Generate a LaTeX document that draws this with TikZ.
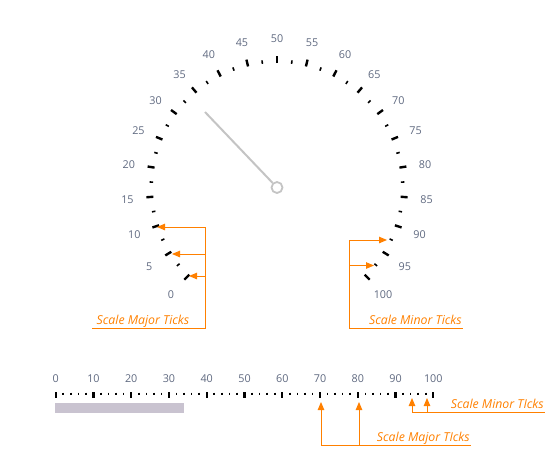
\documentclass[tikz,border=0pt]{standalone}
\usepackage{fontspec}
\setmainfont{Open Sans}
\usetikzlibrary{arrows.meta}
\definecolor{lblc}{RGB}{95,105,128}
\definecolor{callc}{RGB}{255,128,0}
\definecolor{needlec}{RGB}{196,196,196}
\definecolor{barc}{RGB}{201,195,208}
\tikzset{
  numlbl/.style={text=lblc, font=\fontsize{10.8}{12}\selectfont, inner sep=0pt},
  majtick/.style={line width=2.4pt, black},
  mintick/.style={line width=1.6pt, black},
  linmaj/.style={line width=2.2pt, black},
  linmin/.style={line width=1.6pt, black},
  callline/.style={callc, line width=1pt},
  callarrow/.style={callc, line width=1pt, -{Triangle[length=8pt,width=6.5pt]}},
  calltext/.style={text=callc, font=\fontsize{12.3}{14}\selectfont\itshape, inner sep=0pt},
}
\begin{document}
\begin{tikzpicture}[x=1pt,y=-1pt]
\useasboundingbox (0,0) rectangle (558,456);
% ---------- gauge ----------
\foreach \v in {0,5,...,100}{
  \pgfmathsetmacro\a{(\v-50)*2.7}
  \draw[majtick] ({277+124*sin(\a)},{187-124*cos(\a)}) -- ({277+131*sin(\a)},{187-131*cos(\a)});
  \node[numlbl] (g\v) at ({277+150*sin(\a)},{188.3-150*cos(\a)}) {\v};
}
\foreach \v in {2.5,7.5,...,97.5}{
  \pgfmathsetmacro\a{(\v-50)*2.7}
  \draw[mintick] ({277+124*sin(\a)},{187-124*cos(\a)}) -- ({277+127.5*sin(\a)},{187-127.5*cos(\a)});
}
\node[circle, draw=needlec, line width=1.8pt, minimum size=11pt, inner sep=0pt] (pivot) at (277,187.5) {};
\coordinate (ntip) at (205,112);
\draw[needlec, line width=2pt] (ntip) -- (pivot);
% gauge callouts left
\coordinate (la) at (205,227);
\coordinate (lb) at (205,254);
\coordinate (lc) at (205,276);
\coordinate (ld) at (205,328);
\coordinate (le) at (92,328);
\coordinate (lta) at (157,227);
\coordinate (ltb) at (172,254);
\coordinate (ltc) at (189,276);
\draw[callline] (la) -- (ld) -- (le);
\draw[callarrow] (la) -- (lta);
\draw[callarrow] (lb) -- (ltb);
\draw[callarrow] (lc) -- (ltc);
\node[calltext, anchor=base east] (gmaj) at (189.5,324) {Scale Major Ticks};
% gauge callouts right
\coordinate (ra) at (349,240);
\coordinate (rb) at (349,265.5);
\coordinate (rd) at (349,328);
\coordinate (re) at (463,328);
\coordinate (rta) at (387,240);
\coordinate (rtb) at (374,265.5);
\draw[callline] (ra) -- (rd) -- (re);
\draw[callarrow] (ra) -- (rta);
\draw[callarrow] (rb) -- (rtb);
\node[calltext, anchor=base east] (gmin) at (462,324) {Scale Minor Ticks};
% ---------- linear scale ----------
\foreach \v in {0,10,...,100}{
  \draw[linmaj] ({55.7+3.776*\v},392) -- ({55.7+3.776*\v},397.5);
  \node[numlbl] (l\v) at ({55.7+3.776*\v},378.5) {\v};
}
\foreach \v in {2,4,6,8,12,14,16,18,22,24,26,28,32,34,36,38,42,44,46,48,52,54,56,58,62,64,66,68,72,74,76,78,82,84,86,88,92,94,96,98}{
  \draw[linmin] ({55.7+3.776*\v},392.5) -- ({55.7+3.776*\v},395);
}
\fill[barc] (55,402.5) rectangle (184,412.5);
% linear callouts major
\coordinate (ma) at (321,445);
\coordinate (mb) at (359,445);
\coordinate (me) at (471,445);
\coordinate (mta) at (321,402);
\coordinate (mtb) at (359,402);
\draw[callline] (ma) -- (me);
\draw[callarrow] (ma) -- (mta);
\draw[callarrow] (mb) -- (mtb);
\node[calltext, anchor=base east] (lmaj) at (470,441) {Scale Major TIcks};
% linear callouts minor
\coordinate (na) at (412,412);
\coordinate (nb) at (427,412);
\coordinate (ne) at (545,412);
\coordinate (nta) at (412,398);
\coordinate (ntb) at (427,398);
\draw[callline] (na) -- (ne);
\draw[callarrow] (na) -- (nta);
\draw[callarrow] (nb) -- (ntb);
\node[calltext, anchor=base east] (lmin) at (544,408) {Scale Minor TIcks};
\end{tikzpicture}
\end{document}
